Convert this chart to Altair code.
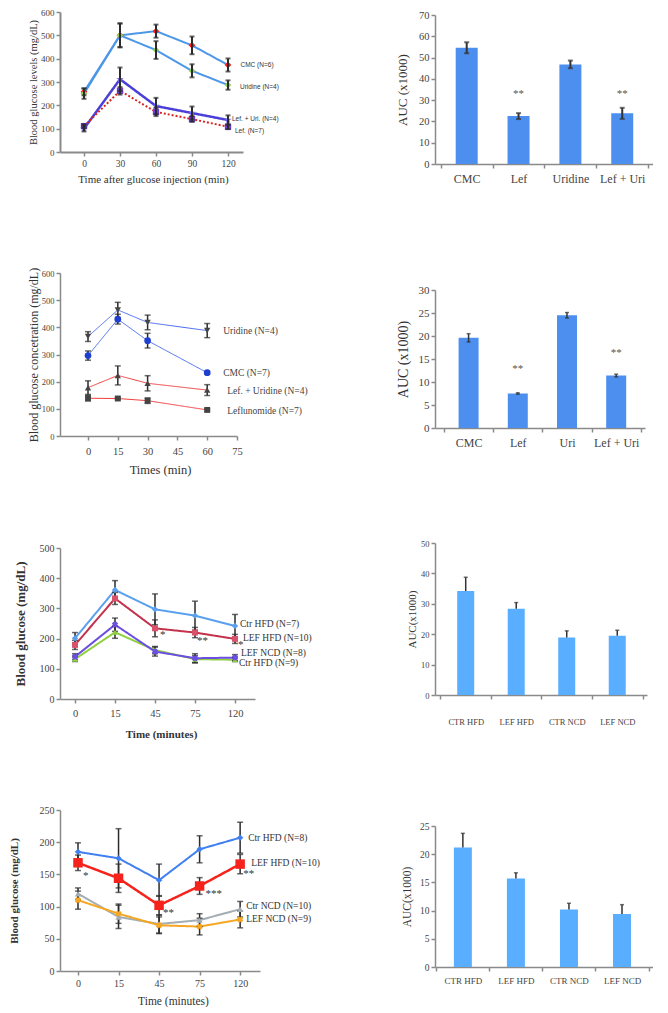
import altair as alt
import pandas as pd

SERIF = "Liberation Serif"
SANS = "Liberation Sans"
AXIS_GRAY = "#8a8a8a"
STAR = "M0,-1L0.24,-0.33L0.95,-0.31L0.38,0.12L0.59,0.81L0,0.4L-0.59,0.81L-0.38,0.12L-0.95,-0.31L-0.24,-0.33Z"
XMARK = "M-0.35,-1L0,-0.65L0.35,-1L1,-0.35L0.65,0L1,0.35L0.35,1L0,0.65L-0.35,1L-1,0.35L-0.65,0L-1,-0.35Z"

# ---------------- Panel A (row 1, left) ----------------
a_time = [0, 30, 60, 90, 120]
a_names = ["CMC (N=6)", "Uridine (N=4)", "Lef. + Uri.  (N=4)", "Lef. (N=7)"]
a_cmc = [258, 500, 518, 457, 373]
a_cmc_err = [15, 51, 28, 38, 28]
a_uri = [250, 500, 437, 348, 287]
a_uri_err = [22, 51, 38, 28, 20]
a_lefuri = [100, 312, 197, 167, 137]
a_lefuri_err = [12, 50, 35, 28, 20]
a_lef = [111, 262, 172, 141, 108]
a_lef_err = [8, 16, 18, 12, 10]

# ---------------- Panel B (row 1, right) ----------------
b_groups = ["CMC", "Lef", "Uridine", "Lef + Uri"]
b_auc = [54.6, 22.5, 46.8, 23.8]
b_err = [2.6, 1.4, 1.8, 2.6]
b_sig = ["", "**", "", "**"]
b_sig_level = [0, 33, 0, 33]

# ---------------- Panel C (row 2, left) ----------------
c_time = [0, 15, 30, 60]
c_names = ["Uridine (N=4)", "CMC (N=7)", "Lef. + Uridine (N=4)", "Leflunomide (N=7)"]
c_uri = [366, 464, 418, 388]
c_uri_err = [18, 28, 27, 26]
c_cmc = [296, 430, 351, 233]
c_cmc_err = [17, 18, 27, 5]
c_lefuri = [178, 223, 194, 169]
c_lefuri_err = [25, 35, 28, 20]
c_lef = [139, 138, 130, 96]
c_lef_err = [10, 4, 10, 4]

# ---------------- Panel D (row 2, right) ----------------
d_groups = ["CMC", "Lef", "Uri", "Lef + Uri"]
d_auc = [19.6, 7.5, 24.5, 11.4]
d_err = [0.9, 0.15, 0.6, 0.3]
d_sig = ["", "**", "", "**"]
d_sig_level = [0, 12.8, 0, 16.4]

# ---------------- Panel E (row 3, left) ----------------
e_pos = [0, 1, 2, 3, 4]
e_time = ["0", "15", "45", "75", "120"]
e_names = ["Ctr HFD (N=9)", "LEF NCD (N=8)", "LEF HFD (N=10)", "Ctr HFD (N=7)"]
e_ctr_ncd = [132, 221, 162, 132, 130]
e_ctr_ncd_err = [8, 20, 12, 12, 6]
e_lef_ncd = [140, 246, 157, 135, 137]
e_lef_ncd_err = [10, 22, 15, 15, 10]
e_lef_hfd = [179, 333, 234, 220, 199]
e_lef_hfd_err = [15, 20, 28, 17, 15]
e_ctr_hfd = [201, 361, 297, 276, 242]
e_ctr_hfd_err = [19, 31, 51, 48, 38]
e_star_pos = [2, 3, 4]
e_star_text = ["*", "**", "*"]

# ---------------- Panel F (row 3, right) ----------------
f_groups = ["CTR HFD", "LEF HFD", "CTR NCD", "LEF NCD"]
f_auc = [34.2, 28.4, 18.9, 19.5]
f_err = [4.5, 2.0, 2.2, 1.8]

# ---------------- Panel G (row 4, left) ----------------
g_pos = [0, 1, 2, 3, 4]
g_time = ["0", "15", "45", "75", "120"]
g_names = ["Ctr NCD (N=10)", "LEF NCD (N=9)", "Ctr HFD (N=8)", "LEF HFD (N=10)"]
g_ctr_ncd = [120, 84, 73, 79, 96]
g_ctr_ncd_err = [9, 18, 14, 10, 12]
g_lef_ncd = [110, 89, 71, 69, 80]
g_lef_ncd_err = [14, 15, 13, 13, 13]
g_ctr_hfd = [185, 175, 141, 189, 207]
g_ctr_hfd_err = [14, 46, 25, 21, 24]
g_lef_hfd = [168, 144, 102, 132, 166]
g_lef_hfd_err = [12, 22, 15, 13, 15]
g_star_pos = [0, 2, 3, 4]
g_star_text = ["*", "**", "***", "**"]

# ---------------- Panel H (row 4, right) ----------------
h_groups = ["CTR HFD", "LEF HFD", "CTR NCD", "LEF NCD"]
h_auc = [21.2, 15.7, 10.2, 9.4]
h_err = [2.5, 1.0, 1.1, 1.65]


def spacer(h):
    return alt.Chart(pd.DataFrame({"s": [0]})).mark_point(opacity=0, size=1, strokeWidth=0).encode(
        x=alt.value(0.5), y=alt.value(h / 2)
    ).properties(width=1, height=h)


def line_panel(x_vals, names, values, errors, styles, xdom, xaxis, ymax, yaxis,
               width, height, label_style, label_offsets, star_series=None,
               stars=(), star_size=12, cap=6, err_width=1.5, err_above=False):
    rows = []
    for nm, vs, es in zip(names, values, errors):
        for xv, v, e in zip(x_vals, vs, es):
            rows.append({"series": nm, "x": xv, "y": v, "lo": v - e, "hi": v + e})
    df = pd.DataFrame(rows)
    xs = alt.Scale(domain=xdom, nice=False, zero=False)
    ys = alt.Scale(domain=[0, ymax], nice=False, zero=True)

    def X(f):
        return alt.X(f"{f}:Q", scale=xs, axis=xaxis)

    def Y(f):
        return alt.Y(f"{f}:Q", scale=ys, axis=yaxis)

    lines, points = [], []
    for nm, st in zip(names, styles):
        sub = df[df["series"] == nm]
        lines.append(alt.Chart(sub).mark_line(
            color=st["line"], strokeWidth=st["lw"], strokeDash=st.get("dash", [1, 0])
        ).encode(x=X("x"), y=Y("y")))
        points.append(alt.Chart(sub).mark_point(
            shape=st["shape"], filled=True, size=st["size"], color=st["fill"], opacity=1
        ).encode(x=X("x"), y=Y("y")))
    base = alt.Chart(df)
    errs = [
        base.mark_rule(color="#2b2b2b", strokeWidth=err_width).encode(x=X("x"), y=Y("lo"), y2="hi:Q"),
        base.mark_tick(orient="horizontal", color="#2b2b2b", size=cap, thickness=err_width).encode(x=X("x"), y=Y("lo")),
        base.mark_tick(orient="horizontal", color="#2b2b2b", size=cap, thickness=err_width).encode(x=X("x"), y=Y("hi")),
    ]
    texts = []
    for nm, (dx, dy) in zip(names, label_offsets):
        last = df[df["series"] == nm].tail(1)
        texts.append(alt.Chart(last).mark_text(
            align="left", baseline="middle", dx=dx, dy=dy, **label_style
        ).encode(x=X("x"), y=Y("y"), text="series:N"))
    for xv, txt, dx, dy in stars:
        row = df[(df["series"] == star_series) & (df["x"] == xv)].copy()
        row["t"] = txt
        texts.append(alt.Chart(row).mark_text(
            align="left", baseline="middle", dx=dx, dy=dy, font=SERIF,
            fontSize=star_size, color="#333"
        ).encode(x=X("x"), y=Y("y"), text="t:N"))
    order = lines + (points + errs if err_above else errs + points) + texts
    return alt.layer(*order).properties(width=width, height=height)


def bar_panel(groups, vals, errs, color, bar_size, xdom, width, height, ymax, ystep,
              yaxis_kw, xaxis_kw, sig=None, sig_level=None, one_sided=False,
              cap=5, err_width=1.5, sig_size=11):
    n = len(groups)
    df = pd.DataFrame({"i": list(range(n)), "g": groups, "v": vals, "e": errs})
    df["lo"] = df["v"] if one_sided else df["v"] - df["e"]
    df["hi"] = df["v"] + df["e"]
    names_js = "[" + ",".join("'" + g + "'" for g in groups) + "]"
    xaxis = alt.Axis(
        values=[k * 0.5 - 0.5 for k in range(2 * n + 1)],
        labelExpr=f"datum.value % 1 === 0 ? {names_js}[datum.value] : ''",
        tickOpacity={"condition": {"test": "datum.value % 1 === 0", "value": 0}, "value": 1},
        title=None, **xaxis_kw)
    yaxis = alt.Axis(values=list(range(0, ymax + 1, ystep)), **yaxis_kw)
    xs = alt.Scale(domain=xdom, nice=False, zero=False)
    ys = alt.Scale(domain=[0, ymax], nice=False, zero=True)

    def X(f):
        return alt.X(f"{f}:Q", scale=xs, axis=xaxis)

    def Y(f):
        return alt.Y(f"{f}:Q", scale=ys, axis=yaxis)

    base = alt.Chart(df)
    layers = [
        base.mark_bar(size=bar_size, color=color).encode(x=X("i"), y=Y("v")),
        base.mark_rule(color="#333", strokeWidth=err_width).encode(x=X("i"), y=Y("lo"), y2="hi:Q"),
        base.mark_tick(orient="horizontal", color="#333", size=cap, thickness=err_width).encode(x=X("i"), y=Y("hi")),
    ]
    if not one_sided:
        layers.append(base.mark_tick(orient="horizontal", color="#333", size=cap,
                                     thickness=err_width).encode(x=X("i"), y=Y("lo")))
    if sig:
        sdf = pd.DataFrame({"i": list(range(n)), "t": sig, "s": sig_level})
        sdf = sdf[sdf["t"] != ""]
        layers.append(alt.Chart(sdf).mark_text(
            font=SERIF, fontSize=sig_size, color="#555", baseline="middle"
        ).encode(x=X("i"), y=Y("s"), text="t:N"))
    return alt.layer(*layers).properties(width=width, height=height)


# ---------------- build panels ----------------
A = line_panel(
    a_time, a_names, [a_cmc, a_uri, a_lefuri, a_lef],
    [a_cmc_err, a_uri_err, a_lefuri_err, a_lef_err],
    [dict(line="#4d97e8", lw=2, shape="diamond", fill="#ff1a1a", size=45),
     dict(line="#4d97e8", lw=2, shape="diamond", fill="#8fd14f", size=45),
     dict(line="#4a3fd6", lw=2.5, shape=STAR, fill="#7b6cf0", size=60),
     dict(line="#d9251d", lw=2, dash=[2, 2], shape="square", fill="#6c3fd9", size=40)],
    [-20, 132.5],
    alt.Axis(values=a_time, title="Time after glucose injection (min)", titleFontSize=11,
             labelFontSize=9.5, titlePadding=6, titleX=93, domainWidth=2),
    600,
    alt.Axis(values=list(range(0, 601, 100)), title="Blood glucose levels (mg/dL)",
             titleX=-27, titleBaseline="middle", titleFontSize=10.5, labelFontSize=9, domainWidth=2),
    183, 140,
    dict(font=SANS, fontSize=6.5, color="#333"),
    [(12.5, 0), (12, 2), (4, -1), (7, 4)],
    cap=5, err_width=2, err_above=True,
)

B = bar_panel(
    b_groups, b_auc, b_err, "#4d8fef", 22, [-0.515, 3.497], 218, 149, 70, 10,
    dict(title="AUC (x1000)", titleX=-33, titleBaseline="middle", titleFontSize=13, labelFontSize=10.5),
    dict(labelFontSize=12, labelPadding=5),
    sig=b_sig, sig_level=b_sig_level, cap=5, err_width=2,
)

C = line_panel(
    c_time, c_names, [c_uri, c_cmc, c_lefuri, c_lef],
    [c_uri_err, c_cmc_err, c_lefuri_err, c_lef_err],
    [dict(line="#4a6cf0", lw=1, shape="triangle-down", fill="#444", size=40),
     dict(line="#4a6cf0", lw=1, shape="circle", fill="#1f3fcf", size=45),
     dict(line="#f03c3c", lw=1, shape="triangle-up", fill="#444", size=40),
     dict(line="#f03c3c", lw=1, shape="square", fill="#444", size=35)],
    [-14.1, 75],
    alt.Axis(values=[0, 15, 30, 45, 60, 75], title="Times (min)", titleFontSize=12.5,
             labelFontSize=10.5, labelPadding=6, titlePadding=7, titleX=100),
    600,
    alt.Axis(values=list(range(0, 601, 100)), title="Blood glucose concetration (mg/dL)",
             titleX=-27, titleBaseline="middle", titleFontSize=12, labelFontSize=8.5),
    177, 163,
    dict(font=SERIF, fontSize=9.5, color="#444"),
    [(16, 0), (16, 0), (20, 1), (20, 1)],
    cap=6, err_width=1.5,
)

D = bar_panel(
    d_groups, d_auc, d_err, "#4d8fef", 20, [-0.581, 3.484], 210, 138, 30, 5,
    dict(title="AUC (x1000)", titleX=-32, titleBaseline="middle", titleFontSize=14, labelFontSize=11),
    dict(labelFontSize=12, labelPadding=5),
    sig=d_sig, sig_level=d_sig_level, cap=4, err_width=1.5,
)

E = line_panel(
    e_pos, e_names, [e_ctr_ncd, e_lef_ncd, e_lef_hfd, e_ctr_hfd],
    [e_ctr_ncd_err, e_lef_ncd_err, e_lef_hfd_err, e_ctr_hfd_err],
    [dict(line="#8fd040", lw=2, shape="triangle-up", fill="#8fd040", size=35),
     dict(line="#6c4fe0", lw=2, shape=XMARK, fill="#6c4fe0", size=40),
     dict(line="#c4314b", lw=2, shape="square", fill="#d9506a", size=35),
     dict(line="#5aa0ee", lw=2, shape="diamond", fill="#5aa0ee", size=40)],
    [-0.375, 4.5],
    alt.Axis(values=e_pos, labelExpr="[" + ",".join("'" + t + "'" for t in e_time) + "][datum.value]",
             title="Time (minutes)", titleFontSize=11, titleFontWeight="bold",
             labelFontSize=10.5, labelPadding=5, titlePadding=10, titleX=101),
    500,
    alt.Axis(values=list(range(0, 501, 100)), title="Blood glucose (mg/dL)",
             titleX=-40, titleBaseline="middle", titleFontSize=13, titleFontWeight="bold",
             labelFontSize=10),
    195, 151,
    dict(font=SERIF, fontSize=9.5, color="#333"),
    [(4, 3), (6, -5), (8, -1), (5, -2)],
    star_series="LEF HFD (N=10)",
    stars=[(p, t, d[0], d[1]) for p, t, d in zip(e_star_pos, e_star_text, [(5, 7), (2, 8), (3, 6)])],
    star_size=11, cap=6, err_width=1.5,
)

F = bar_panel(
    f_groups, f_auc, f_err, "#5aaeff", 17, [-0.509, 3.49], 212, 152, 50, 10,
    dict(title="AUC(x1000)", titleX=-23, titleBaseline="middle", titleFontSize=11, labelFontSize=8.5),
    dict(labelFontSize=8.5, labelPadding=18),
    one_sided=True, cap=4, err_width=1.5,
)

G = line_panel(
    g_pos, g_names, [g_ctr_ncd, g_lef_ncd, g_ctr_hfd, g_lef_hfd],
    [g_ctr_ncd_err, g_lef_ncd_err, g_ctr_hfd_err, g_lef_hfd_err],
    [dict(line="#a3adb3", lw=2, shape="triangle-up", fill="#a3adb3", size=40),
     dict(line="#f5a623", lw=2, shape=XMARK, fill="#f5a623", size=40),
     dict(line="#3f7ff0", lw=2, shape="diamond", fill="#3f7ff0", size=40),
     dict(line="#f5231c", lw=2.5, shape="square", fill="#f5231c", size=90)],
    [-0.444, 4.49],
    alt.Axis(values=g_pos, labelExpr="[" + ",".join("'" + t + "'" for t in g_time) + "][datum.value]",
             title="Time (minutes)", titleFontSize=11.5, labelFontSize=10,
             labelPadding=3, titlePadding=7, titleX=113),
    250,
    alt.Axis(values=list(range(0, 251, 50)), title="Blood glucose (mg/dL)",
             titleX=-46, titleBaseline="middle", titleFontSize=11, titleFontWeight="bold",
             labelFontSize=10),
    200, 161,
    dict(font=SERIF, fontSize=9.5, color="#333"),
    [(6, -3), (6, 0), (8, 0), (11, -1)],
    star_series="LEF HFD (N=10)",
    stars=[(p, t, d[0], d[1]) for p, t, d in zip(g_star_pos, g_star_text, [(5, 13), (4, 8), (6, 8), (3, 10)])],
    star_size=11, cap=6, err_width=1.5,
)

H = bar_panel(
    h_groups, h_auc, h_err, "#5aaeff", 18, [-0.431, 3.49], 218, 141, 25, 5,
    dict(title="AUC(x1000)", titleX=-28, titleBaseline="middle", titleFontSize=11.5, labelFontSize=9.5),
    dict(labelFontSize=9, labelPadding=5),
    one_sided=True, cap=4, err_width=1.5,
)

left_col = alt.vconcat(spacer(4), A, spacer(121), C, spacer(112), E, spacer(111), G,
                       spacing=0, bounds="flush")
right_col = alt.vconcat(spacer(7), B, spacer(126), D, spacer(115), F, spacer(131), H,
                        spacing=0, bounds="flush")

chart = alt.hconcat(left_col, right_col, spacing=75).properties(padding=0).configure_view(
    stroke=None
).configure_axis(
    labelFont=SERIF, titleFont=SERIF, labelColor="#444", titleColor="#333",
    domainColor=AXIS_GRAY, tickColor=AXIS_GRAY, domainWidth=1.5, tickWidth=1.5,
    tickSize=4, labelPadding=2, titleFontWeight="normal", grid=False,
    labelFlush=False, labelOverlap=False,
)

chart.save("out.html", embed_options={"renderer": "svg", "actions": False})
